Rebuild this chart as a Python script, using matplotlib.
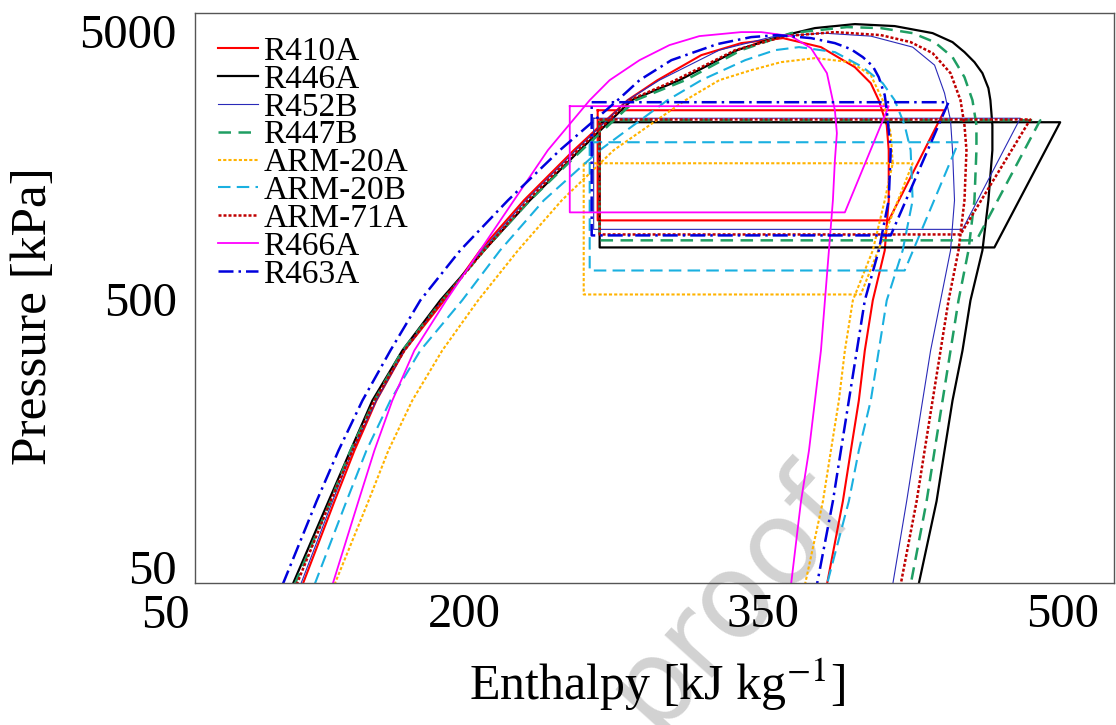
import matplotlib
matplotlib.use('Agg')
import matplotlib.pyplot as plt
import matplotlib.transforms as mtransforms

plt.rcParams['font.family'] = 'Liberation Serif'
plt.rcParams['mathtext.fontset'] = 'stix'

REFRIGERANTS = ['R410A', 'R446A', 'R452B', 'R447B', 'ARM-20A',
                'ARM-20B', 'ARM-71A', 'R466A', 'R463A']

# Saturation domes: enthalpy [kJ/kg] and pressure [kPa], up the liquid line
# to the critical point and back down the vapour line
R410A_H = [119, 135, 145, 156, 170, 190, 208, 230, 255, 282, 297, 319, 339, 360,
           379, 396, 404, 408, 412, 413, 413, 411, 405, 401, 398, 394, 390, 382]
R410A_P = [43, 88, 136, 209, 321, 494, 759, 1168, 1796, 2761, 3280, 4068, 4510, 4708,
           4358, 3669, 3196, 2761, 2227, 1796, 1168, 759, 494, 321, 209, 136, 88, 43]

R446A_H = [114, 132, 143, 154, 169, 188, 210, 233, 258, 284, 308, 337, 357, 376, 396,
           416, 435, 445, 451, 456, 460, 463, 464, 465, 465, 463, 460, 454, 450, 445, 441, 437, 428]
R446A_P = [43, 88, 136, 209, 321, 494, 759, 1168, 1796, 2761, 3280, 4246, 4749, 5132, 5311,
           5221, 4915, 4549, 4175, 3830, 3484, 3062, 2761, 2227, 1796, 1168, 759, 494, 321, 209, 136, 88, 43]

R452B_H = [118, 134, 144, 156, 170, 189, 209, 231, 256, 282, 298, 328, 354, 380,
           404, 425, 436, 441, 444, 445, 446, 444, 439, 434, 430, 426, 422, 415]
R452B_P = [43, 88, 136, 209, 321, 494, 759, 1168, 1796, 2761, 3280, 4246, 4749, 4915,
           4790, 4358, 3733, 2934, 2325, 1796, 1168, 759, 494, 321, 209, 136, 88, 43]

R447B_H = [115, 133, 143, 155, 169, 189, 210, 233, 259, 286, 311, 339, 364, 392,
           409, 425, 436, 445, 451, 455, 457, 457, 456, 453, 448, 444, 440, 436, 432, 424]
R447B_P = [43, 88, 136, 209, 321, 494, 759, 1168, 1796, 2761, 3280, 4246, 4915, 5176,
           5132, 4915, 4549, 3999, 3366, 2761, 2227, 1796, 1168, 759, 494, 321, 209, 136, 88, 43]

ARM20A_H = [135, 152, 162, 174, 189, 207, 227, 249, 275, 311, 328, 344, 359, 376,
            394, 404, 410, 414, 415, 411, 405, 395, 391, 388, 384, 380, 371]
ARM20A_P = [43, 88, 136, 209, 321, 494, 759, 1168, 1796, 2761, 3280, 3575, 3830, 3964,
            3830, 3424, 2761, 2079, 1606, 1168, 759, 494, 321, 209, 136, 88, 43]

ARM20B_H = [125, 141, 151, 163, 178, 199, 218, 240, 268, 302, 319, 341, 356, 368,
            386, 400, 410, 416, 421, 424, 425, 420, 412, 408, 404, 398, 393, 382]
ARM20B_P = [43, 88, 136, 209, 321, 494, 759, 1168, 1796, 2761, 3280, 3896, 4246, 4358,
            4175, 3669, 3196, 2761, 2227, 1796, 1168, 759, 494, 321, 209, 136, 88, 43]

ARM71A_H = [116, 133, 144, 155, 170, 189, 210, 232, 257, 283, 306, 336, 361, 386,
            409, 424, 435, 444, 449, 451, 452, 451, 448, 443, 439, 435, 431, 427, 419]
ARM71A_P = [43, 88, 136, 209, 321, 494, 759, 1168, 1796, 2761, 3280, 4246, 4790, 4958,
            4832, 4549, 4139, 3484, 2761, 2227, 1796, 1168, 759, 494, 321, 209, 136, 88, 43]

R466A_H = [134, 147, 155, 164, 175, 191, 208, 225, 242, 263, 273, 288, 303, 318, 339,
           349, 364, 374, 382, 386, 387, 386, 385, 383, 381, 379, 376, 373, 369, 364]
R466A_P = [43, 88, 136, 209, 321, 494, 759, 1168, 1796, 2761, 3280, 3896, 4434, 4790, 4958,
           4958, 4790, 4321, 3484, 2533, 2079, 1648, 1168, 759, 494, 321, 209, 136, 88, 43]

R463A_H = [109, 126, 137, 149, 163, 178, 198, 222, 248, 277, 288, 304, 327, 344, 357,
           374, 386, 394, 400, 405, 408, 411, 412, 413, 414, 413, 408, 401, 397, 393, 389, 385, 377]
R463A_P = [43, 88, 136, 209, 321, 494, 759, 1168, 1796, 2761, 3280, 3896, 4473, 4749, 4832,
           4708, 4510, 4283, 3999, 3700, 3366, 2883, 2533, 2133, 1796, 1168, 759, 494, 321, 209, 136, 88, 43]

DOME_H = [R410A_H, R446A_H, R452B_H, R447B_H, ARM20A_H, ARM20B_H, ARM71A_H, R466A_H, R463A_H]
DOME_P = [R410A_P, R446A_P, R452B_P, R447B_P, ARM20A_P, ARM20B_P, ARM71A_P, R466A_P, R463A_P]

# Cycle states: expansion valve enthalpy, compressor suction and discharge
CYCLE_H_EXP = [267, 268, 265, 268, 260, 263, 268, 253, 264]
CYCLE_H_SUC = [413, 466, 450, 457, 399, 421, 449, 391, 414]
CYCLE_H_DIS = [441, 499, 479, 489, 425, 448, 484, 413, 443]
CYCLE_P_EVAP = [983, 779, 910, 828, 520, 639, 871, 1053, 864]
CYCLE_P_COND = [2533, 2285, 2365, 2325, 1606, 1924, 2340, 2623, 2714]

STYLES = {
    'R410A': dict(color='#ff0000', linestyle='-', linewidth=1.5),
    'R446A': dict(color='black', linestyle='-', linewidth=1.6),
    'R452B': dict(color='#2a2ab8', linestyle='-', linewidth=0.8),
    'R447B': dict(color='#1f9e63', linestyle=(0, (5, 3)), linewidth=1.8),
    'ARM-20A': dict(color='#ffb300', linestyle=(0, (1.5, 1)), linewidth=1.5),
    'ARM-20B': dict(color='#1ab0e0', linestyle=(0, (6, 3)), linewidth=1.5),
    'ARM-71A': dict(color='#c00000', linestyle=(0, (1.2, 0.8)), linewidth=1.8),
    'R466A': dict(color='#ff00ff', linestyle='-', linewidth=1.3),
    'R463A': dict(color='#0000dd', linestyle=(0, (6, 2, 1, 2)), linewidth=1.8),
}

fig = plt.figure(figsize=(11.16, 7.25), dpi=100)
ax = fig.add_axes([0.1747, 0.196, 0.8235, 0.786])
ax.set_facecolor('none')

# faint watermark behind the plot
fig.text(0.654, 0.175, 'proof', family='DejaVu Sans', fontsize=84, color='#d2d2d2',
         rotation=48, ha='center', va='center', zorder=-1)

for i, name in enumerate(REFRIGERANTS):
    style = STYLES[name]
    ax.plot(DOME_H[i], DOME_P[i], label=name, **style)
    cyc_h = [CYCLE_H_EXP[i], CYCLE_H_DIS[i], CYCLE_H_SUC[i], CYCLE_H_EXP[i], CYCLE_H_EXP[i]]
    cyc_p = [CYCLE_P_COND[i], CYCLE_P_COND[i], CYCLE_P_EVAP[i], CYCLE_P_EVAP[i], CYCLE_P_COND[i]]
    ax.plot(cyc_h, cyc_p, **style)

ax.set_yscale('log')
ax.set_xlim(65, 526)
ax.set_ylim(43.6, 5840)
ax.set_xticks([200, 350, 500])
ax.set_xticklabels(['200', '350', '500'])
ax.set_yticks([50, 500, 5000])
ax.set_yticklabels(['50', '500', '5000'])
ax.minorticks_off()
ax.tick_params(axis='both', length=0, labelsize=35)
ax.tick_params(axis='y', pad=13)
ax.tick_params(axis='x', pad=7)

# the 50 label sits left of the frame
trans = mtransforms.blended_transform_factory(ax.transData, ax.transAxes)
ax.text(50, -0.019, '50', transform=trans, ha='center', va='top', fontsize=35, clip_on=False)

for spine in ax.spines.values():
    spine.set_color('#555555')
    spine.set_linewidth(1.0)

ax.set_xlabel('Enthalpy [kJ kg$^{-1}$]', fontsize=36)
ax.set_ylabel('Pressure [kPa]', fontsize=37)
ax.xaxis.set_label_coords(0.503, -0.13)
ax.yaxis.set_label_coords(-0.15, 0.468)

ax.legend(loc='upper left', frameon=False, fontsize=24, handlelength=1.2,
          handletextpad=0.15, labelspacing=-0.08, borderaxespad=0.4,
          borderpad=0.3)

fig.savefig('out.png', dpi=100)
